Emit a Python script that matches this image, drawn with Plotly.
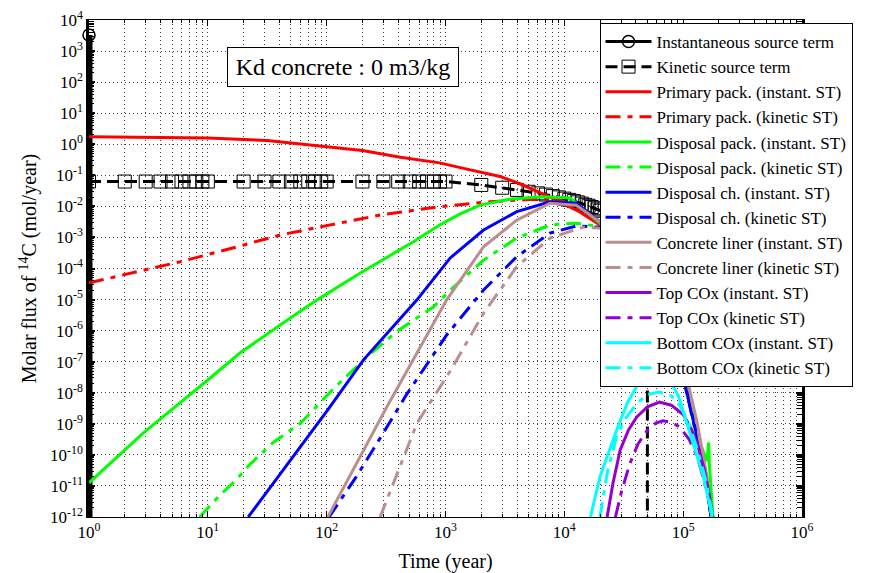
import numpy as np
import plotly.graph_objects as go

FONT = "Liberation Serif"

# ---------------- data (log10 of time in years, log10 of flux in mol/year) ----------------
inst_t = [1, 1]
inst_f = [3300, 1e-30]

kin_t = [1, 2, 3, 4, 5, 6, 7, 8, 9, 10, 20, 30, 40, 50, 60, 70, 80, 90, 100,
         200, 300, 400, 500, 600, 700, 800, 900, 1000,
         2000, 3000, 4000, 5000, 6000, 7000, 8000, 9000, 10000, 11000, 12000,
         13000, 14000, 15000, 16000, 17000, 18000, 19000, 20000,
         25000, 30000, 35000, 40000, 45000, 50000, 50000]
kin_f_log = [-1.2] * 28 + [-1.31, -1.40, -1.47, -1.53, -1.58, -1.62, -1.67, -1.71, -1.75,
                           -1.79, -1.83, -1.87, -1.91, -1.95, -1.98, -2.02, -2.06, -2.10, -2.14,
                           -2.3, -2.5, -2.7, -2.85, -3.0, -3.15, -30]

prim_inst_lt = [0, 0.5, 1.0, 1.5, 2.0, 2.3, 2.62, 2.95, 3.18, 3.46, 3.63, 3.88, 4.13, 4.3, 4.5, 4.7, 4.85, 5.0, 5.12, 5.2, 5.27]
prim_inst_lf = [0.24, 0.23, 0.2, 0.12, -0.07, -0.2, -0.42, -0.6, -0.8, -1.04, -1.28, -1.7, -2.18, -2.6, -3.3, -4.5, -5.9, -7.43, -9.43, -11.0, -13]

prim_kin_lt = [0, 0.77, 1.2, 1.61, 2.0, 2.45, 2.95, 3.375, 3.7, 3.95, 4.13, 4.3, 4.5, 4.7, 4.85, 5.0, 5.12, 5.2, 5.27]
prim_kin_lf = [-4.46, -3.78, -3.35, -2.92, -2.62, -2.28, -2.01, -1.85, -1.78, -1.78, -2.05, -2.6, -3.35, -4.55, -5.95, -7.5, -9.5, -11.0, -13]

dpack_inst_lt = [0, 0.455, 1.0, 1.27, 1.67, 1.92, 2.28, 2.73, 2.95, 3.12, 3.29, 3.54, 3.8, 4.05, 4.3, 4.5, 4.7, 4.85, 5.0, 5.12, 5.2, 5.215, 5.22, 5.27]
dpack_inst_lf = [-10.9, -9.3, -7.59, -6.72, -5.66, -5.01, -4.15, -3.14, -2.6, -2.25, -1.96, -1.77, -1.69, -1.73, -2.55, -3.3, -4.5, -5.9, -7.45, -9.4, -10.2, -9.6, -10.3, -13]

dpack_kin_lt = [0.93, 1.1, 1.24, 1.355, 1.55, 1.78, 2.05, 2.34, 2.6, 2.9, 3.04, 3.32, 3.6, 3.88, 4.1, 4.3, 4.5, 4.7, 4.85, 5.0, 5.12, 5.2, 5.27]
dpack_kin_lf = [-12, -11.3, -10.8, -10.3, -9.6, -8.98, -7.9, -6.84, -6.0, -5.23, -4.7, -3.73, -3.02, -2.6, -2.54, -2.65, -3.35, -4.55, -5.95, -7.5, -9.5, -11.0, -13]

dch_inst_lt = [1.34, 1.78, 2.0, 2.31, 2.76, 3.04, 3.32, 3.6, 3.88, 4.1, 4.3, 4.5, 4.7, 4.85, 5.0, 5.12, 5.2, 5.27]
dch_inst_lf = [-12, -9.74, -8.6, -6.94, -5.01, -3.66, -2.76, -2.17, -1.85, -1.9, -2.5, -3.3, -4.5, -5.9, -7.45, -9.45, -11.0, -13]

dch_kin_lt = [2.02, 2.25, 2.46, 2.67, 3.01, 3.32, 3.6, 3.88, 4.1, 4.3, 4.5, 4.7, 4.85, 5.0, 5.12, 5.2, 5.27]
dch_kin_lf = [-12, -10.7, -9.4, -8.07, -6.14, -4.69, -3.62, -2.86, -2.63, -2.67, -3.35, -4.55, -5.95, -7.5, -9.5, -11.0, -13]

conc_inst_lt = [2.01, 2.5, 3.01, 3.32, 3.6, 3.88, 4.1, 4.3, 4.5, 4.7, 4.85, 5.03, 5.12, 5.2, 5.27]
conc_inst_lf = [-12, -8.5, -5.01, -3.3, -2.44, -1.9, -1.96, -2.5, -3.3, -4.5, -5.9, -7.5, -9.0, -10.7, -13]

conc_kin_lt = [2.45, 2.76, 3.04, 3.32, 3.6, 3.88, 4.16, 4.3, 4.5, 4.7, 4.85, 5.03, 5.12, 5.2, 5.27]
conc_kin_lf = [-12, -8.98, -7.3, -5.44, -3.94, -3.02, -2.67, -2.7, -3.35, -4.55, -5.95, -7.55, -9.1, -10.8, -13]

top_inst_lt = [4.36, 4.41, 4.47, 4.54, 4.61, 4.7, 4.8, 4.9, 5.0, 5.06, 5.12, 5.18, 5.22, 5.25, 5.27]
top_inst_lf = [-12, -10.9, -9.84, -9.2, -8.78, -8.45, -8.3, -8.4, -8.7, -9.1, -9.65, -10.5, -11.3, -12, -12.6]

top_kin_lt = [4.43, 4.48, 4.55, 4.62, 4.7, 4.77, 4.83, 4.9, 4.97, 5.05, 5.12, 5.18, 5.25, 5.27]
top_kin_lf = [-12, -11.2, -10.3, -9.65, -9.2, -8.98, -8.9, -8.95, -9.1, -9.5, -10.07, -10.9, -12, -12.6]

bot_inst_lt = [4.22, 4.3, 4.38, 4.45, 4.53, 4.64, 4.75, 4.86, 4.96, 5.08, 5.17, 5.24, 5.26]
bot_inst_lf = [-12, -10.7, -9.84, -9.1, -8.33, -7.59, -7.25, -7.4, -8.1, -9.62, -10.7, -11.9, -12.5]

bot_kin_lt = [4.3, 4.36, 4.44, 4.52, 4.61, 4.7, 4.8, 4.9, 4.97, 5.05, 5.12, 5.19, 5.25, 5.27]
bot_kin_lf = [-12, -10.6, -9.4, -8.8, -8.35, -8.05, -7.98, -8.1, -8.4, -9.0, -9.84, -10.8, -12, -12.6]

x_tick_vals = [1, 10, 100, 1000, 10000, 100000, 1000000]
x_tick_text = ["10<sup>0</sup>", "10<sup>1</sup>", "10<sup>2</sup>", "10<sup>3</sup>",
               "10<sup>4</sup>", "10<sup>5</sup>", "10<sup>6</sup>"]
y_tick_exps = list(range(-12, 5))
y_tick_text = ["10<sup>%d</sup>" % e for e in y_tick_exps]

# ---------------- figure ----------------
fig = go.Figure()

# heavy vertical drop of the instantaneous source term along t = 1 yr (no legend entry)
fig.add_trace(go.Scatter(
    x=inst_t, y=inst_f, mode="lines", showlegend=False, hoverinfo="skip",
    line=dict(color="black", width=7)))

fig.add_trace(go.Scatter(
    x=inst_t, y=inst_f, mode="lines+markers", name="Instantaneous source term",
    line=dict(color="black", width=3),
    marker=dict(symbol="circle-open", size=12, color="black", line=dict(width=1.5)),
    cliponaxis=False))

fig.add_trace(go.Scatter(
    x=kin_t, y=10 ** np.array(kin_f_log), mode="lines+markers", name="Kinetic source term",
    line=dict(color="black", width=3, dash="12px,6px"),
    marker=dict(symbol="square-open-dot", size=13, color="black", line=dict(width=1))))

KDASH = "15px,7px,5px,7px"
series = [
    ("Primary pack. (instant. ST)", prim_inst_lt, prim_inst_lf, "#ff0000", "solid"),
    ("Primary pack. (kinetic ST)", prim_kin_lt, prim_kin_lf, "#ff0000", KDASH),
    ("Disposal pack. (instant. ST)", dpack_inst_lt, dpack_inst_lf, "#00ff00", "solid"),
    ("Disposal pack. (kinetic ST)", dpack_kin_lt, dpack_kin_lf, "#00ff00", KDASH),
    ("Disposal ch. (instant. ST)", dch_inst_lt, dch_inst_lf, "#0000ff", "solid"),
    ("Disposal ch. (kinetic ST)", dch_kin_lt, dch_kin_lf, "#0000ff", KDASH),
    ("Concrete liner (instant. ST)", conc_inst_lt, conc_inst_lf, "#bc8f8f", "solid"),
    ("Concrete liner (kinetic ST)", conc_kin_lt, conc_kin_lf, "#bc8f8f", KDASH),
    ("Top COx (instant. ST)", top_inst_lt, top_inst_lf, "#9400d3", "solid"),
    ("Top COx (kinetic ST)", top_kin_lt, top_kin_lf, "#9400d3", KDASH),
    ("Bottom COx (instant. ST)", bot_inst_lt, bot_inst_lf, "#00ffff", "solid"),
    ("Bottom COx (kinetic ST)", bot_kin_lt, bot_kin_lf, "#00ffff", KDASH),
]
for name, lt, lf, col, dash in series:
    fig.add_trace(go.Scatter(
        x=10 ** np.array(lt), y=10 ** np.array(lf), mode="lines", name=name,
        line=dict(color=col, width=3, dash=dash)))

x_minor = [k * 10 ** n for n in range(0, 6) for k in range(2, 10)]
y_minor = [k * 10.0 ** n for n in range(-12, 4) for k in range(2, 10)]

grid_col = "rgba(0,0,0,0.75)"
GDASH = "1px,3px"
fig.update_xaxes(
    type="log", range=[0, 6], tickmode="array", tickvals=x_tick_vals, ticktext=x_tick_text,
    showline=True, linecolor="black", linewidth=1, mirror="ticks",
    ticks="inside", ticklen=6, tickcolor="black",
    showgrid=True, gridcolor=grid_col, griddash=GDASH, gridwidth=1,
    minor=dict(tickmode="array", tickvals=x_minor, ticks="inside", ticklen=3, tickcolor="black",
               showgrid=True, gridcolor=grid_col, griddash=GDASH, gridwidth=1),
    tickfont=dict(family=FONT, size=17, color="black"),
    title=dict(text="Time (year)", font=dict(family=FONT, size=20, color="black"), standoff=12),
    zeroline=False, automargin=False)

fig.update_yaxes(
    type="log", range=[-12, 4], tickmode="array", tickvals=[10.0 ** e for e in y_tick_exps],
    ticktext=y_tick_text,
    showline=True, linecolor="black", linewidth=2.5, mirror="ticks",
    ticks="inside", ticklen=6, tickcolor="black", tickwidth=1.5,
    showgrid=True, gridcolor=grid_col, griddash=GDASH, gridwidth=1,
    minor=dict(tickmode="array", tickvals=y_minor, ticks="inside", ticklen=5, tickcolor="black",
               tickwidth=1, showgrid=False),
    tickfont=dict(family=FONT, size=17, color="black"),
    title=dict(text="Molar flux of <sup>14</sup>C (mol/year)",
               font=dict(family=FONT, size=20, color="black"), standoff=8),
    zeroline=False, automargin=False)

fig.add_annotation(
    x=0.356, y=0.905, xref="paper", yref="paper", xanchor="center", yanchor="middle",
    text="Kd concrete : 0 m3/kg", showarrow=False,
    font=dict(family=FONT, size=24, color="black"),
    bordercolor="black", borderwidth=1, borderpad=5, bgcolor="white", width=220, height=28)

fig.update_layout(
    width=881, height=573,
    margin=dict(l=89, r=79, t=20, b=56, autoexpand=False),
    paper_bgcolor="white", plot_bgcolor="white",
    showlegend=True,
    legend=dict(x=0.716, y=0.994, xanchor="left", yanchor="top",
                bgcolor="white", bordercolor="black", borderwidth=1,
                font=dict(family=FONT, size=17, color="black"),
                itemwidth=46, tracegroupgap=0),
)

fig.write_html("out.html")
